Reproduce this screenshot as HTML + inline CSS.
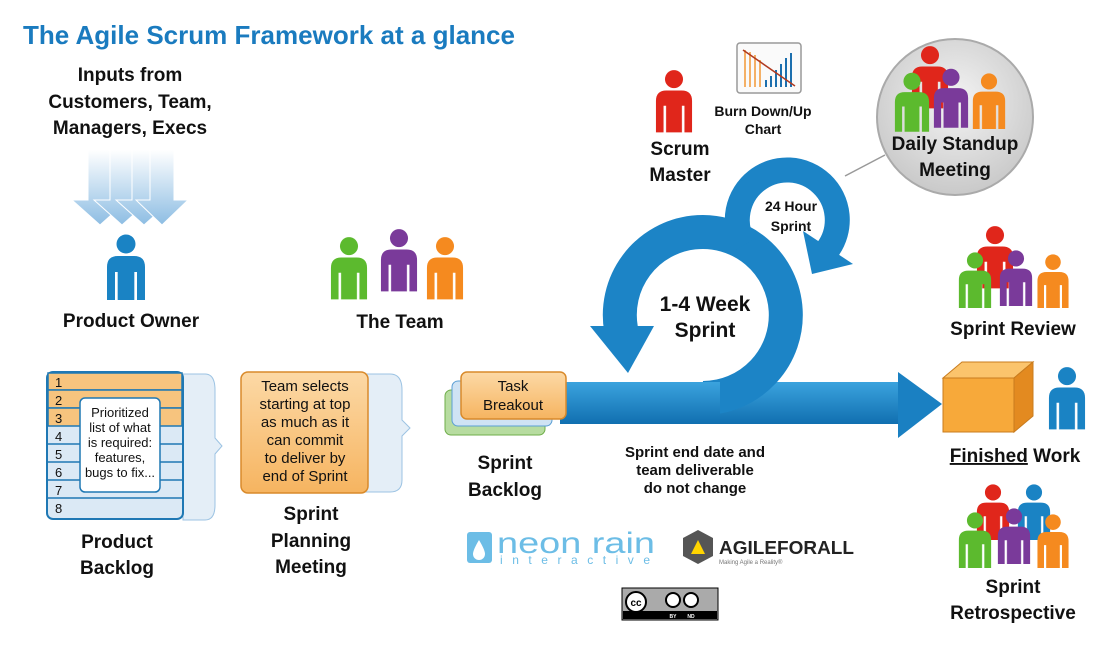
<!DOCTYPE html>
<html><head><meta charset="utf-8"><style>
html,body{margin:0;padding:0;background:#fff;}
svg{display:block;font-family:"Liberation Sans",sans-serif;font-weight:bold;}
</style></head><body>
<svg width="1120" height="652" viewBox="0 0 1120 652" xmlns="http://www.w3.org/2000/svg">
<defs>
<symbol id="p" viewBox="0 0 40 66">
<circle cx="20" cy="10" r="9.5" fill="currentColor"/>
<path d="M1,66 V33 Q1,22 12,22 H28 Q39,22 39,33 V66 H31 V38 H28.5 V66 H11.5 V38 H9 V66 Z" fill="currentColor"/>
<path d="M11.5,38 V66 M28.5,38 V66" stroke="#fff" stroke-opacity=".35" stroke-width="1"/>
</symbol>
<linearGradient id="dn" x1="0" y1="0" x2="0" y2="1"><stop offset="0" stop-color="#fff"/><stop offset="1" stop-color="#8dbde3"/></linearGradient>
<linearGradient id="bl" x1="0" y1="0" x2="0" y2="1"><stop offset="0" stop-color="#3ba3de"/><stop offset="1" stop-color="#116fb0"/></linearGradient>
<linearGradient id="or" x1="0" y1="0" x2="0" y2="1"><stop offset="0" stop-color="#fcd9a6"/><stop offset="1" stop-color="#f6b460"/></linearGradient>
<radialGradient id="gc" cx=".5" cy=".4" r=".6"><stop offset="0" stop-color="#f4f4f4"/><stop offset="1" stop-color="#c9c9c9"/></radialGradient>
</defs>

<text x="23" y="44" font-size="26" fill="#1a7bbf" textLength="492" lengthAdjust="spacingAndGlyphs">The Agile Scrum Framework at a glance</text>
<g font-size="19" text-anchor="middle" fill="#111">
<text x="130" y="81">Inputs from</text>
<text x="130" y="108">Customers, Team,</text>
<text x="130" y="134">Managers, Execs</text>
</g>
<g fill="url(#dn)" stroke="#fff" stroke-width="1">
<polygon points="88,150 112,150 112,200 128,200 100,225 72,200 88,200"/>
<polygon points="110,150 134,150 134,200 150,200 122,225 94,200 110,200"/>
<polygon points="132,150 156,150 156,200 172,200 144,225 116,200 132,200"/>
<polygon points="150,150 174,150 174,200 188,200 162,225 136,200 150,200"/>
</g>

<use href="#p" x="106" y="234" width="40" height="66" color="#1a83c4"/>
<text x="131" y="327" font-size="19" text-anchor="middle" fill="#111">Product Owner</text>

<use href="#p" x="330" y="236" width="38" height="64" color="#5cba2e"/>
<use href="#p" x="380" y="228" width="38" height="64" color="#7a3a9a"/>
<use href="#p" x="426" y="236" width="38" height="64" color="#f58a1f"/>
<text x="400" y="328" font-size="19" text-anchor="middle" fill="#111">The Team</text>

<path d="M183,374 H205 Q215,374 215,390 V438 L222,446 L215,454 V505 Q215,520 205,520 H183 Z" fill="#e4eef7" stroke="#9cc3e3"/>
<rect x="47" y="372" width="136" height="147" rx="6" fill="#dbe9f5" stroke="#1f78b4" stroke-width="2"/>
<g stroke="#1f78b4" stroke-width="1.5">
<rect x="48" y="373" width="134" height="17" fill="#f7c47e"/>
<rect x="48" y="390" width="134" height="18" fill="#f7c47e"/>
<rect x="48" y="408" width="134" height="18" fill="#f7c47e"/>
<line x1="48" y1="444" x2="182" y2="444"/><line x1="48" y1="462" x2="182" y2="462"/><line x1="48" y1="480" x2="182" y2="480"/><line x1="48" y1="498" x2="182" y2="498"/>
</g>
<g font-size="13" font-weight="normal" fill="#111">
<text x="55" y="387">1</text><text x="55" y="405">2</text><text x="55" y="423">3</text><text x="55" y="441">4</text><text x="55" y="459">5</text><text x="55" y="477">6</text><text x="55" y="495">7</text><text x="55" y="513">8</text>
</g>
<rect x="80" y="398" width="80" height="94" rx="5" fill="#fff" stroke="#1f78b4" stroke-width="1.5"/>
<g font-size="13" font-weight="normal" text-anchor="middle" fill="#111">
<text x="120" y="417">Prioritized</text><text x="120" y="432">list of what</text><text x="120" y="447">is required:</text><text x="120" y="462">features,</text><text x="120" y="477">bugs to fix...</text>
</g>
<g font-size="19" text-anchor="middle" fill="#111"><text x="117" y="548">Product</text><text x="117" y="574">Backlog</text></g>

<path d="M365,374 H390 Q402,374 402,390 V420 L410,428 L402,436 V480 Q402,492 390,492 H365 Z" fill="#e4eef7" stroke="#9cc3e3"/>
<rect x="241" y="372" width="127" height="121" rx="7" fill="url(#or)" stroke="#d98a2b" stroke-width="1.5"/>
<g font-size="15" font-weight="normal" text-anchor="middle" fill="#111">
<text x="305" y="391">Team selects</text><text x="305" y="409">starting at top</text><text x="305" y="427">as much as it</text><text x="305" y="445">can commit</text><text x="305" y="463">to deliver by</text><text x="305" y="481">end of Sprint</text>
</g>
<g font-size="19" text-anchor="middle" fill="#111"><text x="311" y="520">Sprint</text><text x="311" y="547">Planning</text><text x="311" y="573">Meeting</text></g>

<rect x="560" y="382" width="345" height="42" fill="url(#bl)"/>
<polygon points="898,372 942,404 898,438" fill="#1a80c2"/>
<path d="M703,398 A83,83 0 1 0 621,329" fill="none" stroke="#1c84c6" stroke-width="34"/>
<polygon points="590,326 654,326 628,373" fill="#1c84c6"/>
<path d="M744,245 A50,50 0 1 1 828,249" fill="none" stroke="#1c84c6" stroke-width="25"/>
<polygon points="853,264 803,231 812,274" fill="#1c84c6"/>
<rect x="560" y="382" width="160" height="42" fill="url(#bl)"/>

<rect x="445" y="390" width="100" height="45" rx="6" fill="#b7dca0" stroke="#6fae4a"/>
<rect x="452" y="381" width="100" height="45" rx="6" fill="#cfe3f4" stroke="#5b9fd4"/>
<rect x="461" y="372" width="105" height="47" rx="6" fill="url(#or)" stroke="#d98a2b" stroke-width="1.5"/>
<g font-size="15" font-weight="normal" text-anchor="middle" fill="#111"><text x="513" y="391">Task</text><text x="513" y="410">Breakout</text></g>
<g font-size="19" text-anchor="middle" fill="#111"><text x="505" y="469">Sprint</text><text x="505" y="496">Backlog</text></g>

<g font-size="21" text-anchor="middle" fill="#111"><text x="705" y="311">1-4 Week</text><text x="705" y="337">Sprint</text></g>
<g font-size="14" text-anchor="middle" fill="#111"><text x="791" y="211">24 Hour</text><text x="791" y="231">Sprint</text></g>
<g font-size="15" text-anchor="middle" fill="#111"><text x="695" y="457">Sprint end date and</text><text x="695" y="475">team deliverable</text><text x="695" y="493">do not change</text></g>

<use href="#p" x="655" y="68" width="38" height="66" color="#e0261b"/>
<g font-size="19" text-anchor="middle" fill="#111"><text x="680" y="155">Scrum</text><text x="680" y="181">Master</text></g>
<rect x="737" y="43" width="64" height="50" rx="3" fill="#fafafa" stroke="#999" stroke-width="1.5"/>
<g stroke="#f4b066" stroke-width="2"><line x1="745" y1="50" x2="745" y2="87"/><line x1="750" y1="52" x2="750" y2="87"/><line x1="755" y1="55" x2="755" y2="87"/><line x1="760" y1="60" x2="760" y2="87"/></g>
<g stroke="#1c6fae" stroke-width="2"><line x1="766" y1="80" x2="766" y2="87"/><line x1="771" y1="76" x2="771" y2="87"/><line x1="776" y1="70" x2="776" y2="87"/><line x1="781" y1="64" x2="781" y2="87"/><line x1="786" y1="58" x2="786" y2="87"/><line x1="791" y1="53" x2="791" y2="87"/></g>
<line x1="743" y1="50" x2="795" y2="86" stroke="#b03a20" stroke-width="1.5"/>
<g font-size="14" text-anchor="middle" fill="#111"><text x="763" y="116">Burn Down/Up</text><text x="763" y="134">Chart</text></g>

<line x1="845" y1="176" x2="885" y2="155" stroke="#999" stroke-width="1.5"/>
<circle cx="955" cy="117" r="78" fill="url(#gc)" stroke="#aaa" stroke-width="2"/>
<use href="#p" x="911" y="45" width="38" height="64" color="#e0261b"/>
<use href="#p" x="894" y="72" width="36" height="60" color="#5cba2e"/>
<use href="#p" x="933" y="68" width="36" height="60" color="#7a3a9a"/>
<use href="#p" x="972" y="72" width="34" height="58" color="#f58a1f"/>
<g font-size="19" text-anchor="middle" fill="#111"><text x="955" y="150">Daily Standup</text><text x="955" y="176">Meeting</text></g>

<use href="#p" x="976" y="225" width="38" height="64" color="#e0261b"/>
<use href="#p" x="957" y="252" width="36" height="56" color="#5cba2e"/>
<use href="#p" x="998" y="250" width="36" height="56" color="#7a3a9a"/>
<use href="#p" x="1036" y="254" width="34" height="54" color="#f58a1f"/>
<text x="1013" y="335" font-size="19" text-anchor="middle" fill="#111">Sprint Review</text>

<polygon points="943,378 962,362 1033,362 1014,378" fill="#fbc46c" stroke="#c97c1e"/>
<polygon points="1014,378 1033,362 1033,416 1014,432" fill="#e38a20" stroke="#c97c1e"/>
<rect x="943" y="378" width="71" height="54" fill="#f7a93a" stroke="#c97c1e"/>
<use href="#p" x="1048" y="365" width="38" height="66" color="#1a83c4"/>
<text x="1015" y="462" font-size="19" text-anchor="middle" fill="#111"><tspan text-decoration="underline">Finished</tspan> Work</text>

<use href="#p" x="975" y="484" width="36" height="56" color="#e0261b"/>
<use href="#p" x="1016" y="484" width="36" height="56" color="#1a83c4"/>
<use href="#p" x="957" y="512" width="36" height="56" color="#5cba2e"/>
<use href="#p" x="996" y="508" width="36" height="56" color="#7a3a9a"/>
<use href="#p" x="1036" y="514" width="34" height="54" color="#f58a1f"/>
<g font-size="19" text-anchor="middle" fill="#111"><text x="1013" y="593">Sprint</text><text x="1013" y="619">Retrospective</text></g>

<rect x="467" y="532" width="25" height="31" rx="3" fill="#6cbde6"/>
<path d="M479,540 Q485,550 485,554 A6,6 0 0 1 473,554 Q473,550 479,540Z" fill="#fff"/>
<text x="497" y="553" font-size="30" font-weight="normal" fill="#6cbde6" textLength="158" lengthAdjust="spacingAndGlyphs">neon rain</text>
<text x="500" y="564" font-size="12" font-weight="normal" fill="#6cbde6" textLength="150">interactive</text>
<polygon points="698,530 713,538 713,556 698,564 683,556 683,538" fill="#555"/>
<polygon points="698,540 705,554 691,554" fill="#ffd400"/>
<text x="719" y="554" font-size="18" fill="#222" textLength="135" lengthAdjust="spacingAndGlyphs">AGILEFORALL</text>
<text x="719" y="564" font-size="6" font-weight="normal" fill="#777">Making Agile a Reality®</text>
<rect x="622" y="588" width="96" height="32" fill="#aaa" stroke="#000"/>
<rect x="623" y="611" width="94" height="8" fill="#000"/>
<circle cx="636" cy="602" r="10" fill="#fff" stroke="#000" stroke-width="2"/>
<text x="636" y="606" font-size="10" text-anchor="middle" fill="#000">cc</text>
<circle cx="673" cy="600" r="7" fill="#fff" stroke="#000" stroke-width="2"/>
<circle cx="691" cy="600" r="7" fill="#fff" stroke="#000" stroke-width="2"/>
<text x="673" y="618" font-size="5" text-anchor="middle" fill="#fff">BY</text>
<text x="691" y="618" font-size="5" text-anchor="middle" fill="#fff">ND</text>
</svg>
</body></html>
